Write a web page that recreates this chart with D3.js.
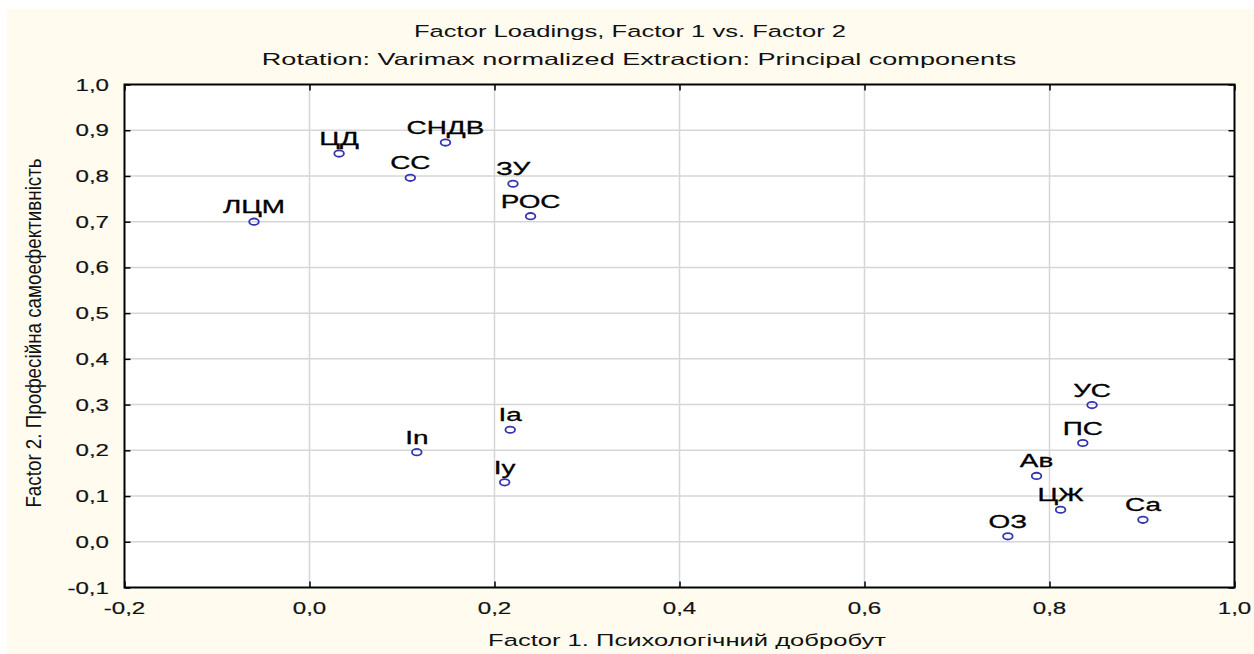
<!DOCTYPE html>
<html>
<head>
<meta charset="utf-8">
<script src="https://cdn.jsdelivr.net/npm/d3@7"></script>
<style>
  body { margin: 0; background: #ffffff; }
  text { font-family: Arial, "Liberation Sans", sans-serif; }
</style>
</head>
<body>
<div id="viz"></div>
<script>
// factor loadings
var labels  = ["ЛЦМ", "ЦД", "СС", "СНДВ", "ЗУ", "РОС", "In", "Ia", "Iy", "УС", "ПС", "Ав", "ЦЖ", "Са", "ОЗ"];
var factor1 = [-0.06, 0.032, 0.109, 0.147, 0.220, 0.239, 0.116, 0.217, 0.211, 0.846, 0.836, 0.786, 0.812, 0.901, 0.755];
var factor2 = [0.700, 0.849, 0.796, 0.873, 0.783, 0.712, 0.196, 0.245, 0.130, 0.299, 0.216, 0.144, 0.070, 0.048, 0.012];
var xTicks  = [-0.2, 0.0, 0.2, 0.4, 0.6, 0.8, 1.0];
var yTicks  = [-0.1, 0.0, 0.1, 0.2, 0.3, 0.4, 0.5, 0.6, 0.7, 0.8, 0.9, 1.0];

var canw = 1254, canh = 654;
var pl = 124.5, pr = 1234.5, pt = 84.5, pb = 587.5;
var stretch = 1.55; // picture text is widened horizontally

var svg = d3.select("#viz").append("svg")
    .attr("width", canw)
    .attr("height", canh);

svg.append("rect")
    .attr("x", 7).attr("y", 9)
    .attr("width", canw - 7).attr("height", canh - 9)
    .style("fill", "#fffbef");

var x = d3.scaleLinear().domain([-0.2, 1.0]).range([pl, pr]);
var y = d3.scaleLinear().domain([-0.1, 1.0]).range([pb, pt]);
var fmt = function(d){ return d3.format(".1f")(d).replace(".", ",").replace("\u2212", "-"); };

// text widened with a horizontal scale
var wideText = function(g, tx, ty, str, size, k, anchor){
    var t = g.append("g")
        .attr("transform", "translate(" + tx + "," + ty + ") scale(" + k + ",1)")
        .append("text")
        .attr("text-anchor", anchor || "middle")
        .style("font-size", size + "px")
        .style("fill", "#111")
        .text(str);
    return t;
};

svg.append("rect")
    .attr("x", pl).attr("y", pt)
    .attr("width", pr - pl).attr("height", pb - pt)
    .style("fill", "#ffffff");

// grid
svg.append("g").selectAll("line").data(xTicks.slice(1, -1)).enter().append("line")
    .attr("x1", function(d){ return x(d); }).attr("x2", function(d){ return x(d); })
    .attr("y1", pt).attr("y2", pb)
    .style("stroke", "#d6d6d6").style("stroke-width", 1.5);
svg.append("g").selectAll("line").data(yTicks.slice(1, -1)).enter().append("line")
    .attr("y1", function(d){ return y(d); }).attr("y2", function(d){ return y(d); })
    .attr("x1", pl).attr("x2", pr)
    .style("stroke", "#d6d6d6").style("stroke-width", 1.5);

// axes with inward ticks on all four sides
var tk = 6;
var axB = d3.axisBottom(x).tickValues(xTicks).tickSize(-tk).tickFormat("");
var axT = d3.axisTop(x).tickValues(xTicks).tickSize(-tk).tickFormat("");
var axL = d3.axisLeft(y).tickValues(yTicks).tickSize(-tk).tickFormat("");
var axR = d3.axisRight(y).tickValues(yTicks).tickSize(-tk).tickFormat("");
[[axB, "translate(0," + pb + ")"], [axT, "translate(0," + pt + ")"],
 [axL, "translate(" + pl + ",0)"], [axR, "translate(" + pr + ",0)"]].forEach(function(a){
    var g = svg.append("g").attr("transform", a[1]).call(a[0]);
    g.select(".domain").remove();
    g.selectAll(".tick line").style("stroke", "#000").style("stroke-width", 1.5);
});

svg.append("rect")
    .attr("x", pl).attr("y", pt)
    .attr("width", pr - pl).attr("height", pb - pt)
    .style("fill", "none").style("stroke", "#000").style("stroke-width", 2);

// tick labels
xTicks.forEach(function(d){
    wideText(svg, x(d), 614, fmt(d), 17, 1.42).style("stroke", "#222").style("stroke-width", 0.2);
});
yTicks.forEach(function(d){
    wideText(svg, 109, y(d) + 6, fmt(d), 17, 1.42, "end").style("stroke", "#222").style("stroke-width", 0.2);
});

// titles
wideText(svg, 630, 37, "Factor Loadings, Factor 1 vs. Factor 2", 16.5, 1.55);
wideText(svg, 639, 65, "Rotation: Varimax normalized Extraction: Principal components", 16.5, 1.64);
wideText(svg, 687, 646, "Factor 1. Психологічний добробут", 16.5, 1.55);

svg.append("g")
    .attr("transform", "translate(41,333) rotate(-90) scale(1,1.15)")
    .append("text")
    .attr("text-anchor", "middle")
    .style("font-size", "18.8px")
    .style("fill", "#111")
    .text("Factor 2. Професійна самоефективність");

// points and labels
var pts = labels.map(function(l, i){ return {name: l, f1: factor1[i], f2: factor2[i]}; });

svg.append("g").selectAll("ellipse").data(pts).enter().append("ellipse")
    .attr("cx", function(d){ return x(d.f1); })
    .attr("cy", function(d){ return y(d.f2); })
    .attr("rx", 4.8).attr("ry", 3.2)
    .style("fill", "none")
    .style("stroke", "#3535b0")
    .style("stroke-width", 1.8);

pts.forEach(function(d){
    wideText(svg, x(d.f1), y(d.f2) - 8.5, d.name, 18, stretch)
        .style("fill", "#000").style("stroke", "#000").style("stroke-width", 0.3);
});
</script>
</body>
</html>
